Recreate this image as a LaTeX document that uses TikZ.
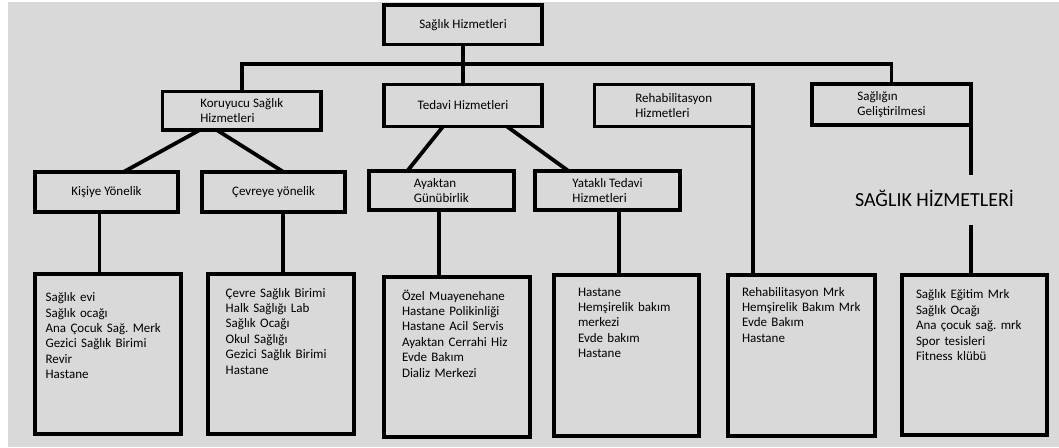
\documentclass[tikz,border=0pt]{standalone}
\usepackage{fontspec}
\setmainfont{Carlito}
\frenchspacing
\definecolor{zemin}{HTML}{D9D9D9}

\begin{document}
\begin{tikzpicture}[x=1pt, y=-1pt,
    every node/.style={font=\fontsize{13}{15.4}\selectfont},
    kutu/.style={draw=black, line width=3.8pt, outer sep=0pt, align=left},
    liste/.style={kutu, inner sep=0pt, text height=23pt, text depth=137pt, execute at begin node={\leftskip=#1}},
    hat/.style={draw=black, line width=3.8pt}]
    \useasboundingbox (0,0) rectangle (1059,447);
    \fill[white] (0,0) rectangle (1059,447);
    \fill[zemin] (8,2) rectangle (1059,447);

    % ust seviye
    \node[kutu, minimum width=158pt, minimum height=39.5pt] at (463,24.75) (kok) {Sağlık Hizmetleri};
    \node[kutu, minimum width=158.5pt, minimum height=38.5pt] at (241.75,110.75) (koruyucu) {Koruyucu Sağlık\\Hizmetleri};
    \node[kutu, minimum width=158pt, minimum height=42pt] at (463,105.5) (tedavi) {Tedavi Hizmetleri};
    \node[kutu, minimum width=158.5pt, minimum height=42pt] at (673.75,105.5) (rehab) {Rehabilitasyon\\Hizmetleri};
    \node[kutu, minimum width=159pt, minimum height=41pt] at (891.5,104.5) (gelistirme) {Sağlığın\\Geliştirilmesi};

    % alt seviye
    \node[kutu, minimum width=143pt, minimum height=40pt] at (106.5,192) (kisiye) {Kişiye Yönelik};
    \node[kutu, minimum width=143pt, minimum height=40pt] at (273.5,192) (cevre) {Çevreye yönelik};
    \node[kutu, minimum width=145pt, minimum height=39pt] at (441.3,190.5) (ayaktan) {Ayaktan\\Günübirlik};
    \node[kutu, minimum width=145pt, minimum height=39pt] at (607.5,190.5) (yatakli) {Yataklı Tedavi\\Hizmetleri};
    \node[font=\fontsize{20}{24}\selectfont, text height=13pt, text depth=0pt, inner sep=0pt, minimum height=49pt] at (934.5,200) (baslik) {SAĞLIK HİZMETLERİ};

    % kurumlar
    \node[liste=10.6pt, text width=146pt, text height=27.6pt, text depth=132.4pt] at (108,354) (liste1) {Sağlık evi\\Sağlık ocağı\\Ana Çocuk Sağ. Merk\\Gezici Sağlık Birimi\\Revir\\Hastane};
    \node[liste=17.7pt, text width=146pt] at (281,354) (liste2) {Çevre Sağlık Birimi\\Halk Sağlığı Lab\\Sağlık Ocağı\\Okul Sağlığı\\Gezici Sağlık Birimi\\Hastane};
    \node[liste=18pt, text width=146pt] at (457,357) (liste3) {Özel Muayenehane\\Hastane Polikinliği\\Hastane Acil Servis\\Ayaktan Cerrahi Hiz\\Evde Bakım\\Dializ Merkezi};
    \node[liste=24pt, text width=145pt, text height=21pt, text depth=140pt] at (626.5,355.5) (liste4) {Hastane\\Hemşirelik bakım\\merkezi\\Evde bakım\\Hastane};
    \node[liste=14pt, text width=147pt, text height=21pt, text depth=140pt] at (801.5,355.5) (liste5) {Rehabilitasyon Mrk\\Hemşirelik Bakım Mrk\\Evde Bakım\\Hastane};
    \node[liste=14pt, text width=145pt, text height=24.2pt, text depth=136.2pt] at (974.5,354.8) (liste6) {Sağlık Eğitim Mrk\\Sağlık Ocağı\\Ana çocuk sağ. mrk\\Spor tesisleri\\Fitness klübü};

    \coordinate (bus) at (463,64);
    \draw[hat] (kok.south) -- (tedavi.north);
    \draw[hat] (koruyucu.north) |- (bus) -| (gelistirme.north);
    \draw[hat] ([xshift=-42pt]koruyucu.south) -- ([xshift=17pt]kisiye.north);
    \draw[hat] ([xshift=-25pt]koruyucu.south) -- ([xshift=10pt]cevre.north);
    \draw[hat] ([xshift=-20pt]tedavi.south) -- ([xshift=-34pt]ayaktan.north);
    \draw[hat] ([xshift=44pt]tedavi.south) -- ([xshift=-39pt]yatakli.north);
    \draw[hat] ([xshift=-7pt]kisiye.south) -- ([xshift=-7pt]kisiye.south |- liste1.north);
    \draw[hat] ([xshift=9.5pt]cevre.south) -- ([xshift=9.5pt]cevre.south |- liste2.north);
    \draw[hat] ([xshift=-2.3pt]ayaktan.south) -- ([xshift=-2.3pt]ayaktan.south |- liste3.north);
    \draw[hat] ([xshift=11.5pt]yatakli.south) -- ([xshift=11.5pt]yatakli.south |- liste4.north);
    \draw[hat] (rehab.south east) -- (rehab.south east |- liste5.north);
    \draw[hat] (gelistirme.south east) -- (gelistirme.south east |- baslik.north);
    \draw[hat] (gelistirme.south east |- baslik.south) -- (gelistirme.south east |- liste6.north);
\end{tikzpicture}
\end{document}
